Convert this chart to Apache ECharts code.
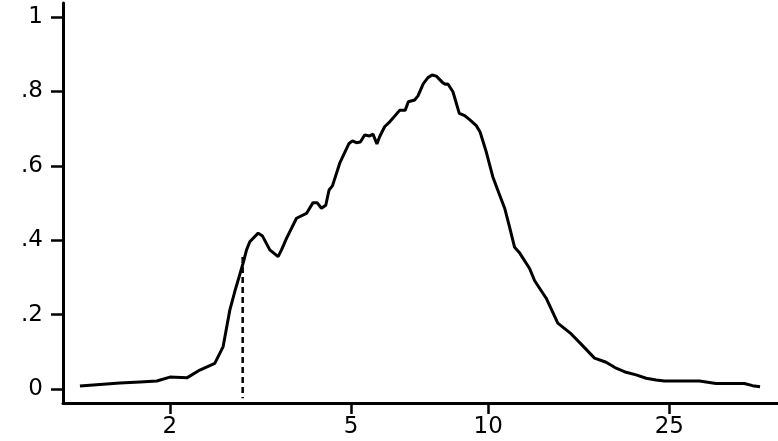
<!DOCTYPE html>
<html>
<head>
<meta charset="utf-8">
<script src="https://cdn.jsdelivr.net/npm/echarts@6/dist/echarts.min.js"></script>
<style>
  html, body { margin: 0; padding: 0; background: #fff; }
  #chart { width: 778px; height: 441px; }
</style>
</head>
<body>
<div id="chart"></div>
<script>
  // density curve, x on a log scale
  const xValues = [1.269, 1.553, 1.719, 1.873, 2.0, 2.179, 2.327, 2.51, 2.618, 2.708,
    2.777, 2.896, 2.947, 2.996, 3.125, 3.195, 3.315, 3.457, 3.517, 3.607,
    3.794, 3.99, 4.125, 4.21, 4.304, 4.399, 4.473, 4.55, 4.721, 4.948,
    5.033, 5.135, 5.24, 5.355, 5.492, 5.585, 5.698, 5.776, 5.924, 6.054,
    6.391, 6.572, 6.679, 6.895, 7.012, 7.205, 7.375, 7.533, 7.695, 7.955,
    8.065, 8.158, 8.368, 8.642, 8.878, 9.105, 9.417, 9.6, 9.906, 10.24,
    10.56, 10.87, 11.14, 11.43, 11.72, 12.33, 12.65, 13.41, 14.22, 15.22,
    16.14, 17.12, 18.16, 19.1, 20.09, 21.13, 22.23, 23.38, 24.38, 29.09,
    30.09, 31.66, 36.52, 38.08, 39.54]
  const yValues = [0.008, 0.016, 0.019, 0.0215, 0.032, 0.030, 0.051, 0.069, 0.114, 0.212,
    0.262, 0.338, 0.374, 0.396, 0.419, 0.411, 0.374, 0.356, 0.374, 0.405,
    0.459, 0.472, 0.501, 0.501, 0.486, 0.494, 0.535, 0.546, 0.607, 0.660,
    0.667, 0.662, 0.664, 0.683, 0.680, 0.685, 0.659, 0.678, 0.705, 0.716,
    0.749, 0.749, 0.772, 0.777, 0.788, 0.821, 0.837, 0.844, 0.841, 0.823,
    0.819, 0.820, 0.799, 0.741, 0.735, 0.724, 0.708, 0.691, 0.637, 0.570,
    0.526, 0.486, 0.436, 0.381, 0.366, 0.324, 0.291, 0.244, 0.177, 0.148,
    0.116, 0.083, 0.072, 0.056, 0.045, 0.038, 0.029, 0.024, 0.0215, 0.0215,
    0.019, 0.015, 0.015, 0.009, 0.006]

  // dashed reference line
  const cutX = 2.89
  const cutY = [0.355, -0.025]

  const xTicks = [2, 5, 10, 25]
  const yTicks = [0, 0.2, 0.4, 0.6, 0.8, 1]

  const curve = xValues.map((x, i) => [x, yValues[i]])
  const cut = cutY.map(y => [cutX, y])

  const chart = echarts.init(document.getElementById('chart'))
  chart.setOption({
    animation: false,
    backgroundColor: '#fff',
    grid: { left: 63, right: 0, top: 3, bottom: 38 },
    xAxis: {
      type: 'log',
      logBase: 10,
      min: 1.165,
      max: 43.3,
      splitLine: { show: false },
      axisLine: { show: true, onZero: false, lineStyle: { color: '#000', width: 3 } },
      axisTick: { show: true, inside: false, customValues: xTicks, length: 11, lineStyle: { color: '#000', width: 2.5 } },
      axisLabel: {
        customValues: xTicks,
        margin: 13,
        color: '#000',
        fontFamily: 'DejaVu Sans',
        fontSize: 23,
        formatter: v => String(Math.round(v))
      }
    },
    yAxis: {
      type: 'value',
      min: -0.0376,
      max: 1.0376,
      splitLine: { show: false },
      axisLine: { show: true, onZero: false, lineStyle: { color: '#000', width: 3 } },
      axisTick: { show: true, customValues: yTicks, length: 12, lineStyle: { color: '#000', width: 2.5 } },
      axisLabel: {
        customValues: yTicks,
        margin: 20,
        color: '#000',
        fontFamily: 'DejaVu Sans',
        fontSize: 23,
        formatter: v => {
          if (v === 0) return '0'
          if (v === 1) return '1'
          return String(+v.toFixed(1)).replace(/^0/, '')
        }
      }
    },
    series: [{
      type: 'line',
      data: curve,
      showSymbol: false,
      lineStyle: { color: '#000', width: 3 }
    }, {
      type: 'line',
      data: cut,
      showSymbol: false,
      lineStyle: { color: '#000', width: 2.5, type: [6, 4] }
    }]
  })
</script>
</body>
</html>
